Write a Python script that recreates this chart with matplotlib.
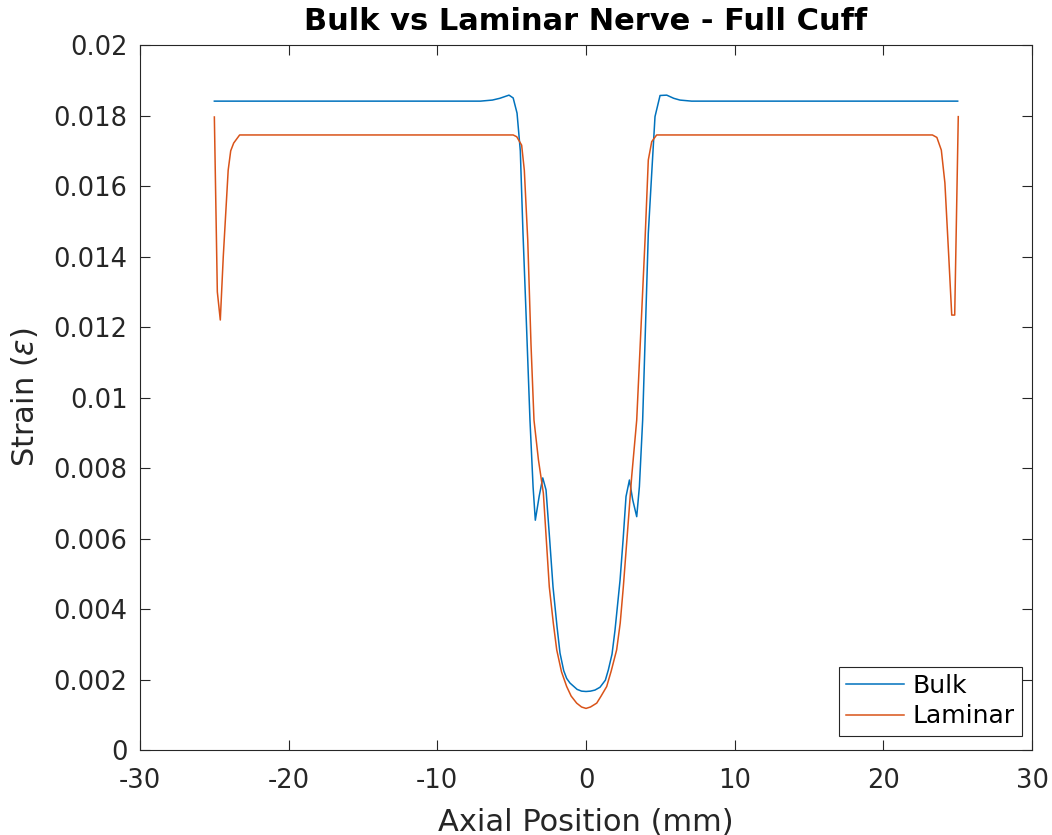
import numpy as np
import matplotlib.pyplot as plt

# Bulk nerve strain vs axial position
bulk_x = [-25.0, -20.0, -10.0, -7.1, -6.3, -5.8, -5.18, -4.9, -4.64, -4.42, -4.24, -4.0,
          -3.77, -3.56, -3.41, -3.15, -2.91, -2.69, -2.45, -2.22, -1.95, -1.75, -1.5,
          -1.3, -1.08, -0.6, -0.3, 0.0, 0.3, 0.6, 0.94, 1.3, 1.5, 1.75, 1.95, 2.29, 2.5,
          2.69, 2.92, 3.14, 3.41, 3.59, 3.81, 4.0, 4.19, 4.42, 4.64, 4.98, 5.43, 5.9,
          6.32, 7.1, 10.0, 20.0, 25.0]
bulk_y = [0.01841, 0.01841, 0.01841, 0.01841, 0.01844, 0.01849, 0.01858, 0.01850, 0.01807,
          0.01700, 0.01467, 0.01200, 0.00936, 0.00746, 0.00652, 0.00720, 0.00772, 0.00738,
          0.00600, 0.00463, 0.00350, 0.00275, 0.00225, 0.00203, 0.00190, 0.00172, 0.00167,
          0.00166, 0.00167, 0.00170, 0.00178, 0.00198, 0.00227, 0.00272, 0.00340, 0.00482,
          0.00600, 0.00719, 0.00766, 0.00710, 0.00662, 0.00747, 0.00936, 0.01200, 0.01466,
          0.01637, 0.01797, 0.01857, 0.01858, 0.01849, 0.01844, 0.01841, 0.01841, 0.01841,
          0.01841]

# Laminar nerve strain vs axial position
lam_x = [-25.0, -24.8, -24.6, -24.4, -24.07, -23.9, -23.7, -23.3, -20.0, -10.0, -4.9,
         -4.66, -4.33, -4.15, -3.92, -3.7, -3.5, -3.2, -2.87, -2.47, -2.2, -1.97, -1.65,
         -1.3, -1.0, -0.63, -0.3, 0.0, 0.3, 0.72, 1.0, 1.39, 1.7, 2.06, 2.3, 2.51, 2.85,
         3.07, 3.41, 3.7, 3.97, 4.19, 4.42, 4.75, 10.0, 20.0, 23.3, 23.6, 23.9, 24.14,
         24.4, 24.6, 24.8, 25.04]
lam_y = [0.01796, 0.01300, 0.01220, 0.01400, 0.01645, 0.01700, 0.01722, 0.01745, 0.01745,
         0.01745, 0.01745, 0.01740, 0.01716, 0.01645, 0.01447, 0.01150, 0.00936, 0.00823,
         0.00729, 0.00463, 0.00360, 0.00284, 0.00222, 0.00180, 0.00153, 0.00133, 0.00122,
         0.00118, 0.00122, 0.00133, 0.00152, 0.00180, 0.00225, 0.00284, 0.00360, 0.00463,
         0.00652, 0.00775, 0.00936, 0.01200, 0.01447, 0.01674, 0.01726, 0.01745, 0.01745,
         0.01745, 0.01745, 0.01738, 0.01702, 0.01609, 0.01400, 0.01234, 0.01234, 0.01797]

xticks = [-30, -20, -10, 0, 10, 20, 30]
yticks = [0, 0.002, 0.004, 0.006, 0.008, 0.01, 0.012, 0.014, 0.016, 0.018, 0.02]
ytick_labels = ['0', '0.002', '0.004', '0.006', '0.008', '0.01', '0.012', '0.014',
                '0.016', '0.018', '0.02']

fig = plt.figure(figsize=(10.52, 8.35), dpi=100)
ax = fig.add_axes([0.1331, 0.1018, 0.8479, 0.8442])

ax.plot(bulk_x, bulk_y, color='#0072BD', lw=1.1, label='Bulk')
ax.plot(lam_x, lam_y, color='#D95319', lw=1.1, label='Laminar')

ax.set_xlim(-30, 30)
ax.set_ylim(0, 0.02)
ax.set_xticks(xticks)
ax.set_xticklabels([str(t) for t in xticks])
ax.set_yticks(yticks)
ax.set_yticklabels(ytick_labels)
ax.tick_params(direction='in', top=True, right=True, labelsize=18.5, length=7,
               colors='#262626')
ax.tick_params(axis='y', pad=9)
ax.tick_params(axis='x', pad=13)
for s in ax.spines.values():
    s.set_color('#262626')
    s.set_linewidth(0.8)

ax.set_xlabel('Axial Position (mm)', fontsize=22, color='#262626', labelpad=10)
ax.set_ylabel(r'Strain ($\epsilon$)', fontsize=22, color='#262626')
ax.yaxis.set_label_coords(-0.112, 0.5)
ax.set_title('Bulk vs Laminar Nerve - Full Cuff', fontsize=22, fontweight='bold', pad=11)

leg = ax.legend(loc='lower right', bbox_to_anchor=(0.9888, 0.0199), fontsize=18,
                fancybox=False, framealpha=1, edgecolor='#262626', borderaxespad=0,
                handlelength=2.3, handletextpad=0.35, labelspacing=0.25, borderpad=0.3)
leg.get_frame().set_linewidth(0.8)

plt.savefig('out.png', dpi=100)
